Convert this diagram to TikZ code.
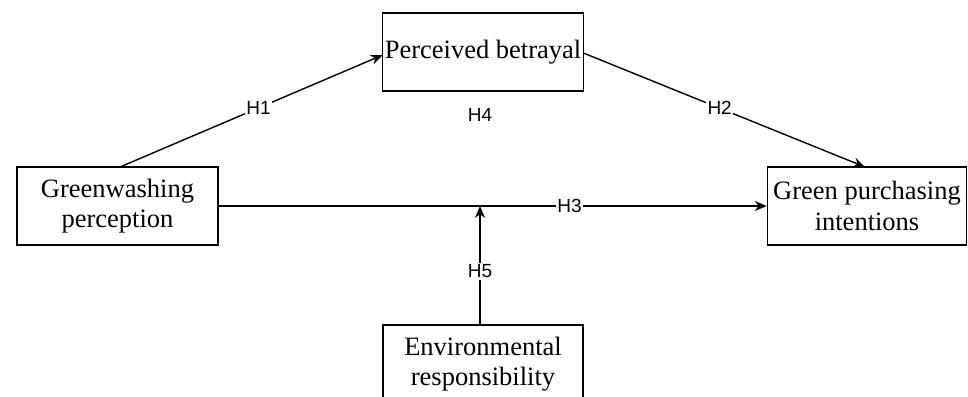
\documentclass[tikz,border=0pt]{standalone}
\usepackage{fontspec}
\setmainfont{Liberation Serif}
\newfontfamily\labfont{Liberation Sans}
\usetikzlibrary{arrows.meta}
\begin{document}
\begin{tikzpicture}[x=1pt,y=1pt,
  box/.style={draw, line width=1.5pt, minimum width=201pt, minimum height=78pt, inner sep=0pt, align=center, font=\fontsize{26.5}{30.5}\selectfont},
  conn/.style={line width=1.4pt, -{Stealth[length=12pt,width=10pt]}},
  lab/.style={fill=white, inner sep=1.5pt, font=\labfont\fontsize{19}{21}\selectfont}]
\useasboundingbox (0,0) rectangle (968,396);
\begin{scope}
\clip (0,0) rectangle (968,396);
\node[box] (pb) at (483,344) {Perceived betrayal};
\node[box] (gw) at (117.5,190) {Greenwashing\\perception};
\node[box, minimum width=199pt] (gp) at (867,190) {Green purchasing\\intentions};
\node[box, minimum width=200pt] (er) at (483,32) {Environmental\\responsibility};
\coordinate (m) at (480,190);
\coordinate (gwtop) at (120,229);
\coordinate (pbin) at (382.7,341);
\coordinate (pbout) at (583.3,343);
\coordinate (gptop) at (865,229);
\coordinate (ertop) at (480,71);
\draw[conn] (gwtop) -- node[lab, pos=0.527] (h1) {H1} (pbin);
\draw[conn] (pbout) -- node[lab, pos=0.484] (h2) {H2} (gptop);
\draw[conn] (gw.east) -- node[lab, pos=0.64] (h3) {H3} (gp.west);
\draw[conn] (ertop) -- node[lab, pos=0.45] (h5) {H5} (m);
\node[lab] (h4) at (480,281) {H4};
\end{scope}
\end{tikzpicture}
\end{document}
